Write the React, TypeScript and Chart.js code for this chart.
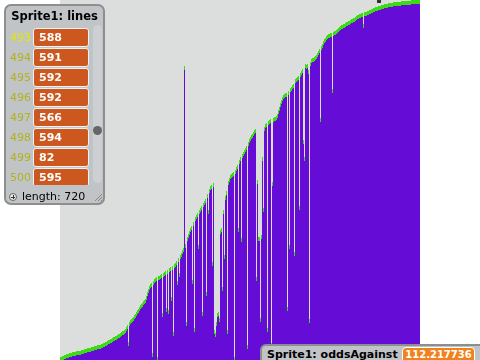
import React, { useEffect, useRef } from "react";
import { Chart, registerables } from "chart.js";

Chart.register(...registerables);

// One value per stage pixel column (x = 60 .. 419), in "lines" units (0..720)
const lineValues: number[] = [
  6, 6, 8, 8, 10, 10, 12, 12, 12, 14,
  14, 14, 16, 16, 16, 16, 18, 18, 18, 18,
  18, 20, 20, 20, 22, 22, 22, 24, 24, 24,
  24, 26, 26, 26, 28, 28, 28, 30, 30, 30,
  30, 32, 32, 34, 34, 36, 36, 38, 40, 40,
  42, 42, 44, 46, 46, 48, 48, 50, 52, 52,
  54, 56, 58, 58, 60, 62, 66, 70, 36, 76,
  80, 82, 84, 86, 90, 92, 96, 100, 102, 106,
  110, 112, 114, 118, 120, 122, 128, 136, 142, 148,
  152, 154, 14, 158, 162, 164, 166, 6, 168, 168,
  170, 172, 94, 174, 176, 178, 104, 180, 100, 184,
  186, 126, 188, 56, 192, 194, 198, 158, 204, 174,
  210, 214, 220, 224, 588, 232, 76, 246, 252, 258,
  264, 268, 160, 276, 64, 286, 290, 294, 230, 300,
  304, 308, 96, 314, 318, 322, 136, 332, 300, 342,
  348, 350, 196, 354, 60, 54, 76, 94, 96, 84,
  260, 264, 146, 300, 210, 328, 338, 60, 358, 364,
  370, 372, 374, 376, 6, 380, 386, 390, 264, 400,
  406, 244, 412, 416, 420, 424, 428, 30, 436, 442,
  446, 450, 452, 456, 460, 462, 166, 360, 246, 246,
  84, 250, 406, 304, 466, 472, 474, 64, 478, 480,
  482, 34, 356, 484, 486, 486, 488, 492, 500, 506,
  514, 520, 526, 530, 532, 534, 534, 106, 538, 230,
  544, 546, 550, 552, 216, 562, 564, 566, 568, 308,
  574, 578, 582, 440, 406, 592, 590, 592, 580, 82,
  596, 602, 604, 604, 606, 608, 610, 614, 618, 622,
  484, 628, 632, 638, 642, 644, 648, 650, 652, 652,
  654, 654, 542, 656, 658, 658, 660, 662, 664, 666,
  668, 670, 670, 672, 672, 674, 676, 676, 678, 678,
  680, 682, 682, 684, 684, 686, 688, 690, 690, 692,
  692, 694, 694, 672, 696, 696, 696, 698, 698, 700,
  700, 702, 702, 704, 704, 706, 706, 706, 708, 708,
  708, 710, 710, 710, 712, 712, 712, 712, 714, 714,
  714, 714, 714, 716, 716, 716, 716, 716, 716, 716,
  716, 718, 718, 718, 718, 718, 718, 718, 718, 718,
  718, 720, 720, 720, 720, 720, 720, 720, 720, 720,
];

const yMax = 720;
const capSize = 8;

const listTitle = "Sprite1: lines";
const listIndexes = [493, 494, 495, 496, 497, 498, 499, 500];
const listItems = [588, 591, 592, 592, 566, 594, 82, 595];
const listLength = 720;

const varLabel = "Sprite1: oddsAgainst";
const varValue = "112.217736";

const PURPLE = "#650dd6";
const GREEN = "#3cdc14";
const STAGE_GRAY = "#dcdedd";
const FONT = "'DejaVu Sans', Verdana, sans-serif";

export default function App() {
  const ref = useRef<HTMLCanvasElement>(null);

  useEffect(() => {
    const labels = lineValues.map((_, i) => String(i + 1));
    const caps = lineValues.map((v) => [Math.max(0, v - capSize), v]);
    const common = {
      grouped: false,
      barPercentage: 1,
      categoryPercentage: 1,
      borderWidth: 0,
      inflateAmount: 0,
    };
    const chart = new Chart(ref.current!, {
      type: "bar",
      data: {
        labels,
        datasets: [
          { ...common, data: caps as any, backgroundColor: GREEN, order: 0 },
          { ...common, data: lineValues, backgroundColor: PURPLE, order: 1 },
        ],
      },
      options: {
        animation: false,
        responsive: false,
        devicePixelRatio: 1,
        events: [],
        layout: { padding: 0 },
        plugins: { legend: { display: false }, tooltip: { enabled: false } },
        scales: {
          x: { display: false, grid: { display: false } },
          y: { display: false, min: 0, max: yMax, grid: { display: false } },
        },
      } as any,
    });
    return () => chart.destroy();
  }, []);

  return (
    <div
      style={{
        position: "fixed",
        left: 0,
        top: 0,
        width: 480,
        height: 360,
        background: "#ffffff",
        overflow: "hidden",
        fontFamily: FONT,
      }}
    >
      <div style={{ position: "absolute", left: 60, top: 0, width: 360, height: 360, background: STAGE_GRAY }} />
      <canvas
        ref={ref}
        width={360}
        height={360}
        style={{ position: "absolute", left: 60, top: 0, width: 360, height: 360 }}
      />
      <div style={{ position: "absolute", left: 377, top: 0, width: 4, height: 3, background: "#333" }} />

      {/* list monitor */}
      <div
        style={{
          position: "absolute",
          left: 4,
          top: 4,
          width: 101,
          height: 201,
          boxSizing: "border-box",
          border: "2px solid #8e8e8e",
          borderRadius: 7,
          background: "#c1c4c7",
        }}
      />
      <div
        style={{
          position: "absolute",
          left: 4,
          top: 8,
          width: 101,
          textAlign: "center",
          fontWeight: "bold",
          fontSize: 11.5,
          lineHeight: "16px",
          color: "#000",
        }}
      >
        {listTitle}
      </div>
      <div style={{ position: "absolute", left: 6, top: 27, width: 86, height: 158, overflow: "hidden" }}>
        {listItems.map((v, k) => (
          <div key={k}>
            <div
              style={{
                position: "absolute",
                left: 0,
                top: 1 + 20 * k,
                width: 25,
                height: 19,
                lineHeight: "19px",
                fontSize: 11,
                textAlign: "right",
                color: k === 0 ? "#e6e600" : "#b2b21e",
              }}
            >
              {listIndexes[k]}
            </div>
            <div
              style={{
                position: "absolute",
                left: 27,
                top: 1 + 20 * k,
                width: 56,
                height: 19,
                boxSizing: "border-box",
                border: "1px solid #f2f2f2",
                borderRadius: 3,
                background: "#cc571f",
                color: "#fff",
                fontWeight: "bold",
                fontSize: 11,
                lineHeight: "17px",
                paddingLeft: 5,
              }}
            >
              {v}
            </div>
          </div>
        ))}
      </div>
      <div style={{ position: "absolute", left: 93, top: 25, width: 9, height: 158, borderRadius: 5, background: "#cdd0d3" }} />
      <div style={{ position: "absolute", left: 93, top: 126, width: 9, height: 9, borderRadius: 5, background: "#666" }} />
      <div
        style={{
          position: "absolute",
          left: 9,
          top: 193,
          width: 8,
          height: 8,
          borderRadius: 5,
          border: "1px solid #666",
          boxSizing: "border-box",
          background: "#e8e8e8",
        }}
      >
        <div style={{ position: "absolute", left: 1, top: 2.5, width: 4, height: 1, background: "#333" }} />
        <div style={{ position: "absolute", left: 2.5, top: 1, width: 1, height: 4, background: "#333" }} />
      </div>
      <div style={{ position: "absolute", left: 22, top: 189, fontSize: 11, lineHeight: "16px", color: "#000" }}>
        length: {listLength}
      </div>
      <svg style={{ position: "absolute", left: 94, top: 193 }} width={9} height={9}>
        <line x1={8} y1={1} x2={1} y2={8} stroke="#888" strokeWidth={1} />
        <line x1={8} y1={4} x2={4} y2={8} stroke="#888" strokeWidth={1} />
        <line x1={8} y1={7} x2={7} y2={8} stroke="#888" strokeWidth={1} />
      </svg>

      {/* variable monitor */}
      <div
        style={{
          position: "absolute",
          left: 260,
          top: 344,
          width: 230,
          height: 30,
          boxSizing: "border-box",
          border: "2px solid #8e8e8e",
          borderRadius: 6,
          background: "#c1c4c7",
        }}
      />
      <div
        style={{
          position: "absolute",
          left: 267,
          top: 347,
          fontSize: 11,
          fontWeight: "bold",
          lineHeight: "16px",
          color: "#000",
          whiteSpace: "nowrap",
        }}
      >
        {varLabel}
      </div>
      <div
        style={{
          position: "absolute",
          left: 402,
          top: 347,
          width: 73,
          height: 17,
          boxSizing: "border-box",
          border: "1px solid #fff",
          borderRadius: 4,
          background: "#f0821e",
          color: "#fff",
          fontWeight: "bold",
          fontSize: 10,
          lineHeight: "13px",
          textAlign: "center",
        }}
      >
        {varValue}
      </div>
    </div>
  );
}
